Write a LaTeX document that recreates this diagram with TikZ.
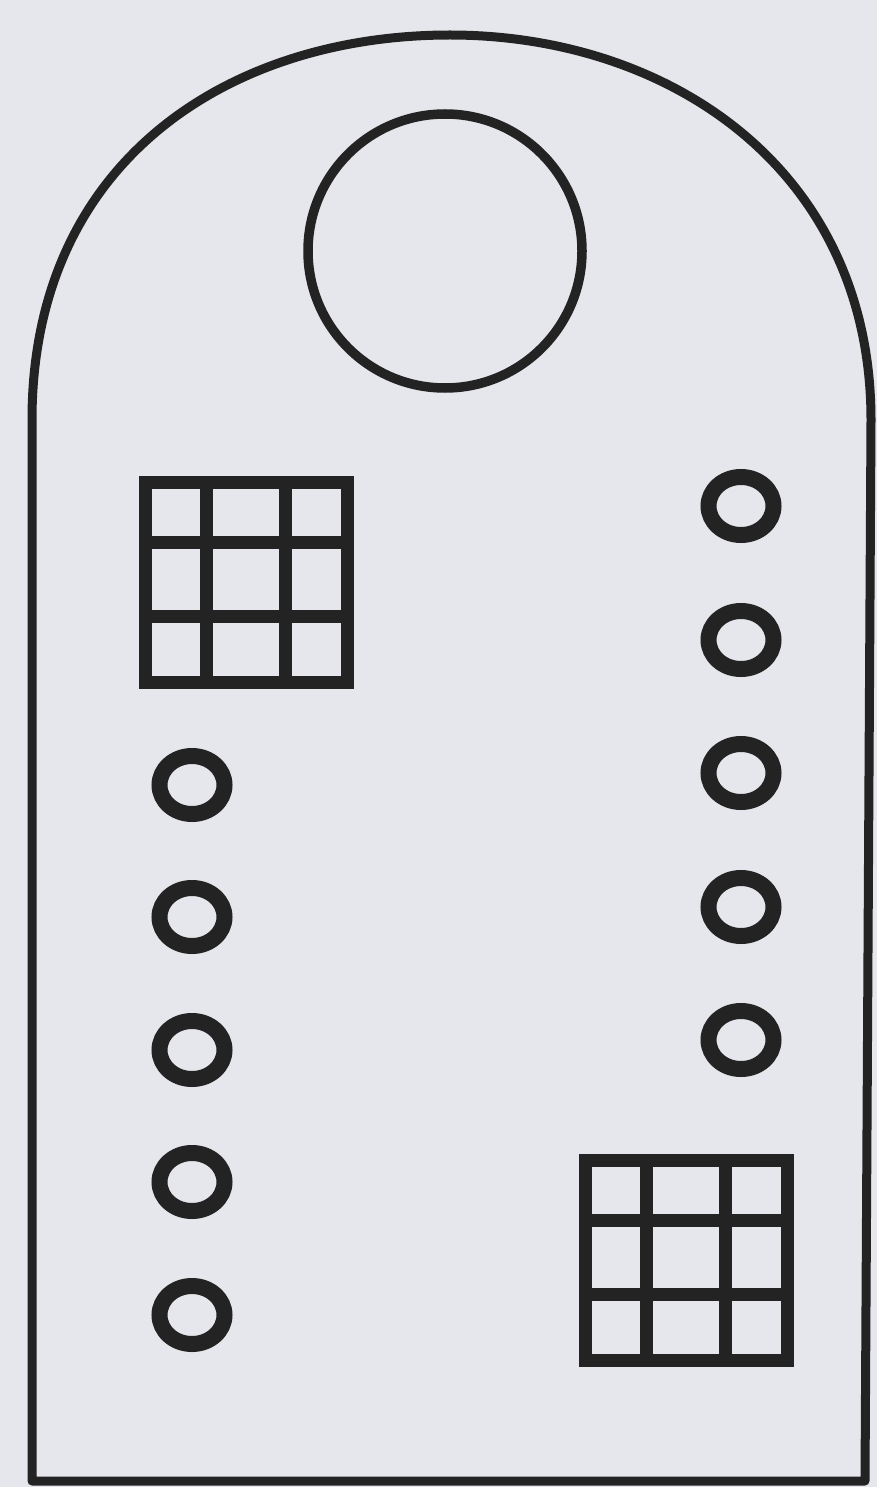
\documentclass[tikz,border=0pt]{standalone}
\usepackage{tikz}
\definecolor{papier}{HTML}{E6E7EC}
\definecolor{tinte}{HTML}{232323}
\tikzset{
  rand/.style={tinte,line width=9pt,line join=round},
  scheibe/.style={tinte,line width=9.5pt},
  loch/.style={tinte,line width=16pt},
  gitter/.style={tinte,line width=13pt,line cap=rect},
}
% 3x3 Feld, linke obere Ecke bei (#1,#2)
\newcommand{\feld}[2]{%
  \draw[gitter] (#1,#2) rectangle ++(202,200);
  \draw[gitter] (#1+61,#2)--(#1+61,#2+200) (#1+140,#2)--(#1+140,#2+200);
  \draw[gitter] (#1,#2+60)--(#1+202,#2+60) (#1,#2+134)--(#1+202,#2+134);
}
\begin{document}
\begin{tikzpicture}[x=1pt,y=-1pt]
  \fill[papier] (0,0) rectangle (877,1487);
  \useasboundingbox (0,0) rectangle (877,1487);
  \draw[rand] (32,1481)--(32,420) .. controls (32,160) and (230,35) .. (450,35)
    .. controls (670,35) and (871,170) .. (871,420)--(865,1481)--cycle;
  \draw[scheibe] (445,251) circle [radius=137];
  \feld{145}{482}
  \feld{585}{1160}
  \foreach \y in {785,917,1050,1182,1315}
    \draw[loch] (192,\y) ellipse [x radius=32.5,y radius=29];
  \foreach \y in {506,640,773,907,1040}
    \draw[loch] (741,\y) ellipse [x radius=32.5,y radius=29];
\end{tikzpicture}
\end{document}
